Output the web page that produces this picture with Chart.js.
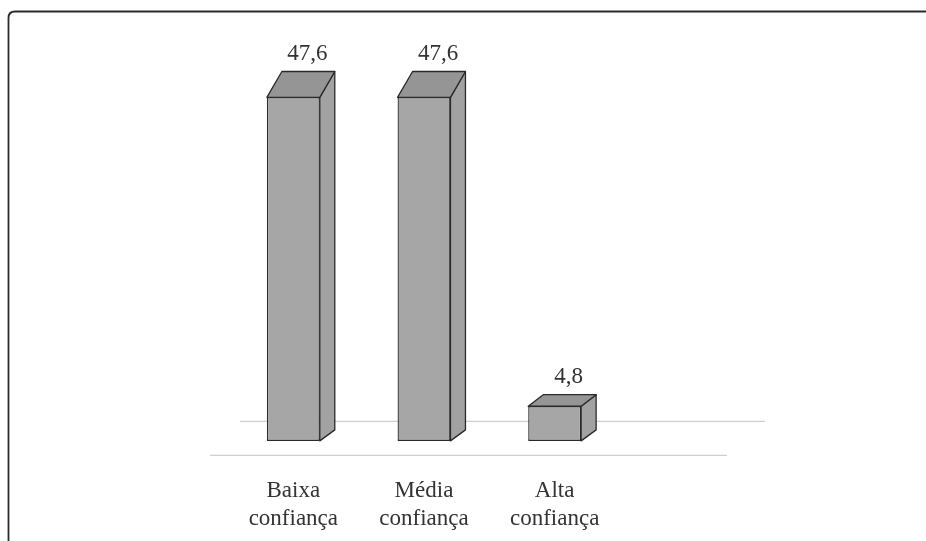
<!DOCTYPE html>
<html>
<head>
<meta charset="utf-8">
<script src="https://cdn.jsdelivr.net/npm/chart.js@4/dist/chart.umd.min.js"></script>
<style>
  html, body { margin: 0; padding: 0; background: #ffffff; }
  #wrap { position: relative; width: 926px; height: 541px; }
  canvas { display: block; }
</style>
</head>
<body>
<div id="wrap"><canvas id="c" width="926" height="541"></canvas></div>
<script>
const categories = [["Baixa", "confiança"], ["Média", "confiança"], ["Alta", "confiança"]];
const values = [47.6, 47.6, 4.8];

const FONT = "'Liberation Serif', 'DejaVu Serif', serif";

const frame = {
  id: 'frame',
  beforeDraw(chart) {
    const ctx = chart.ctx;
    ctx.save();
    ctx.fillStyle = '#ffffff';
    ctx.fillRect(0, 0, chart.width, chart.height);
    ctx.strokeStyle = '#2b2b2b';
    ctx.lineWidth = 1.8;
    ctx.beginPath();
    ctx.moveTo(8.5, chart.height + 2);
    ctx.lineTo(8.5, 18);
    ctx.quadraticCurveTo(8.5, 11.5, 15, 11.5);
    ctx.lineTo(chart.width, 11.5);
    ctx.stroke();
    ctx.restore();
  },
  beforeDatasetsDraw(chart) {
    const ctx = chart.ctx;
    const y0 = chart.scales.y.getPixelForValue(0);
    const a = chart.chartArea;
    ctx.save();
    ctx.strokeStyle = '#cfcfcf';
    ctx.lineWidth = 1.3;
    ctx.beginPath();
    ctx.moveTo(a.left + 12, y0 - 19.5);
    ctx.lineTo(a.right + 145, y0 - 19.5);
    ctx.moveTo(a.left - 18, y0 + 14.5);
    ctx.lineTo(a.right + 107, y0 + 14.5);
    ctx.stroke();
    ctx.restore();
  }
};

const bars3d = {
  id: 'bars3d',
  afterDatasetsDraw(chart) {
    const ctx = chart.ctx;
    const meta = chart.getDatasetMeta(0);
    const dx = 15;
    ctx.save();
    ctx.strokeStyle = '#2a2a2a';
    ctx.lineWidth = 1.3;
    ctx.lineJoin = 'round';
    meta.data.forEach((bar, i) => {
      const w = bar.width;
      const L = bar.x - w / 2, R = bar.x + w / 2;
      const T = bar.y, B = bar.base;
      const h = B - T;
      const dyT = 10 + 0.046 * h;
      const dyB = 11;
      ctx.beginPath();
      ctx.moveTo(R, T);
      ctx.lineTo(R + dx, T - dyT);
      ctx.lineTo(R + dx, B - dyB);
      ctx.lineTo(R, B);
      ctx.closePath();
      ctx.fillStyle = '#a2a2a2';
      ctx.fill();
      ctx.stroke();
      ctx.beginPath();
      ctx.moveTo(L, T);
      ctx.lineTo(L + dx, T - dyT);
      ctx.lineTo(R + dx, T - dyT);
      ctx.lineTo(R, T);
      ctx.closePath();
      ctx.fillStyle = '#959595';
      ctx.fill();
      ctx.stroke();
      ctx.fillStyle = '#333333';
      ctx.font = '23px ' + FONT;
      ctx.textAlign = 'center';
      ctx.textBaseline = 'middle';
      ctx.fillText(String(values[i]).replace('.', ','), bar.x + 14, T - dyT - 18);
    });
    ctx.restore();
  }
};

new Chart(document.getElementById('c'), {
  type: 'bar',
  data: {
    labels: categories,
    datasets: [{
      data: values,
      backgroundColor: '#a6a6a6',
      borderColor: '#2a2a2a',
      borderWidth: 1.3,
      borderSkipped: false,
      barPercentage: 0.405,
      categoryPercentage: 1.0
    }]
  },
  options: {
    responsive: false,
    animation: false,
    events: [],
    layout: { padding: { left: 228, right: 306, top: 80, bottom: -28 } },
    plugins: { legend: { display: false }, tooltip: { enabled: false } },
    scales: {
      y: { display: false, min: 0, max: 50 },
      x: {
        grid: { display: false, drawTicks: false },
        border: { display: false },
        ticks: {
          color: '#333333',
          padding: 36,
          font: { family: FONT, size: 23, lineHeight: 1.22 }
        }
      }
    }
  },
  plugins: [frame, bars3d]
});
</script>
</body>
</html>
